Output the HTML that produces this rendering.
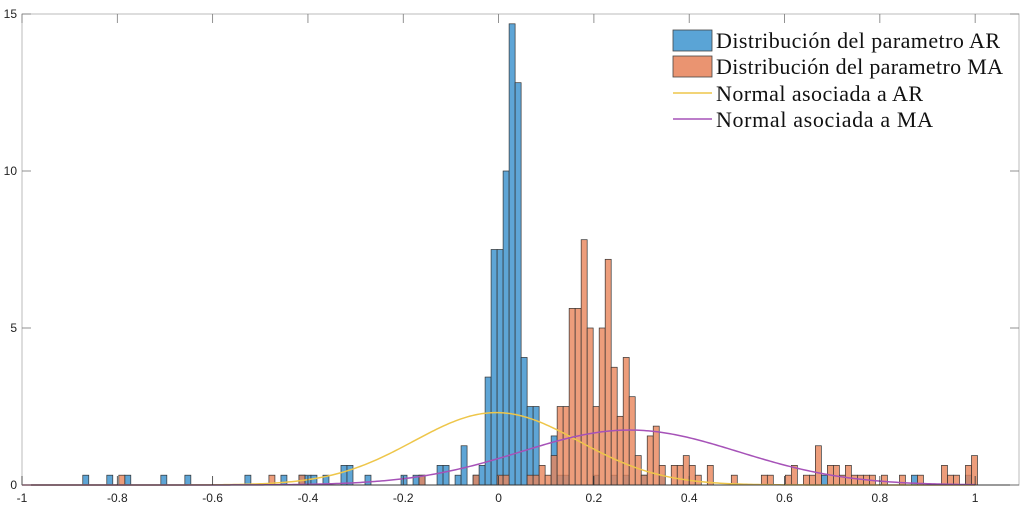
<!DOCTYPE html>
<html><head><meta charset="utf-8"><style>
html,body{margin:0;padding:0;background:#fff;}
svg{display:block;font-family:"Liberation Sans",sans-serif;}
</style></head><body>
<svg id="chart" width="1025" height="521" viewBox="0 0 1025 521" xmlns="http://www.w3.org/2000/svg">
<rect x="0" y="0" width="1025" height="521" fill="#fff"/>
<g id="bars-ar"></g>
<g id="bars-ma"></g>
<g id="curves"></g>
<g id="axes"></g>
<g id="legend">
  <rect x="673" y="30" width="39" height="21" fill="#5aa4d6" stroke="#444" stroke-width="0.8"/>
  <text x="716" y="48" font-family="Liberation Serif, serif" font-size="22" textLength="284" fill="#111">Distribución del parametro AR</text>
  <rect x="673" y="56" width="39" height="21" fill="#ea9471" stroke="#444" stroke-width="0.8"/>
  <text x="716" y="74" font-family="Liberation Serif, serif" font-size="22" textLength="287" fill="#111">Distribución del parametro MA</text>
  <line x1="673" y1="93" x2="712" y2="93" stroke="#eec64a" stroke-width="1.5"/>
  <text x="716" y="101" font-family="Liberation Serif, serif" font-size="22" textLength="207" fill="#111">Normal asociada a AR</text>
  <line x1="673" y1="119" x2="712" y2="119" stroke="#a652b8" stroke-width="1.5"/>
  <text x="716" y="127" font-family="Liberation Serif, serif" font-size="22" textLength="217" fill="#111">Normal asociada a MA</text>
</g>
</svg>
<script>
// bins: index k -> left edge = binStart + k*binWidth
const binStart = -0.0283;
const binWidth = 0.0126;
const unitDensity = 0.3125;
const arBins = [-67,-63,-60,-54,-50,-40,-34,-31,-30,-29,-27,-24,-23,-20,-14,-12,-11,-8,-7,-5,-4,-2,-1,0,1,2,3,4,5,6,7,8,11,12,13,18,21,23,26,29,56,71,80];
const arCounts = [1,1,1,1,1,1,1,1,1,1,1,2,2,1,1,1,1,2,2,1,4,1,2,11,24,24,32,47,41,13,8,8,5,1,1,1,1,1,1,1,1,1,1];
const maBins = [-61,-36,-31,-11,-2,2,3,7,8,9,10,11,12,13,14,15,16,17,18,19,20,21,22,23,24,25,26,27,28,29,31,32,33,34,35,37,41,46,47,50,51,53,54,55,57,58,59,60,61,62,63,64,66,69,72,76,77,78,80,81];
const maCounts = [1,1,1,1,1,1,1,1,1,2,1,3,8,8,18,18,25,16,8,16,23,12,7,13,9,3,1,5,6,2,2,2,3,2,1,2,1,1,1,1,2,1,1,4,2,2,1,2,1,1,1,1,1,1,1,2,1,1,2,3];
const arMean = -0.005, arSigma = 0.173;
const maMean = 0.275, maSigma = 0.228;
const xTicks = [-1,-0.8,-0.6,-0.4,-0.2,0,0.2,0.4,0.6,0.8,1];
const xTickLabels = ["-1","-0.8","-0.6","-0.4","-0.2","0","0.2","0.4","0.6","0.8","1"];
const yTicks = [0,5,10,15];
const yTickLabels = ["0","5","10","15"];

const X0=22, X1=1019, Y0=485, Y1=14, xmin=-1, xmax=1.092, ymin=0, ymax=15;
const sx = v => X0 + (v - xmin) / (xmax - xmin) * (X1 - X0);
const sy = v => Y0 - (v - ymin) / (ymax - ymin) * (Y0 - Y1);
const NS = "http://www.w3.org/2000/svg";
function mk(tag, attrs, parent){const e=document.createElementNS(NS,tag);for(const k in attrs)e.setAttribute(k,attrs[k]);parent.appendChild(e);return e;}

function drawBars(g, bins, counts, fill, op, name){
  bins.forEach((k,i)=>{
    const l = binStart + k*binWidth, r = l + binWidth;
    const h = counts[i]*unitDensity;
    const el = mk('rect',{x:sx(l),y:sy(h),width:sx(r)-sx(l),height:sy(0)-sy(h),fill:fill,'fill-opacity':op,stroke:'#333','stroke-width':0.7},g);
    
    
  });
}
drawBars(document.getElementById('bars-ar'), arBins, arCounts, '#4d9bd1', 0.9, 'ar-bar');
drawBars(document.getElementById('bars-ma'), maBins, maCounts, '#e8845a', 0.8, 'ma-bar');

function normPath(m,s){
  let d='';
  for(let i=0;i<=400;i++){const x=xmin+(1-xmin)*i/400;const y=Math.exp(-0.5*((x-m)/s)**2)/(s*Math.sqrt(2*Math.PI));d+=(i?'L':'M')+sx(x).toFixed(2)+','+sy(y).toFixed(2);}
  return d;
}
const cg=document.getElementById('curves');
const c1=mk('path',{d:normPath(arMean,arSigma),fill:'none',stroke:'#eec64a','stroke-width':1.5},cg);


const c2=mk('path',{d:normPath(maMean,maSigma),fill:'none',stroke:'#a652b8','stroke-width':1.5},cg);



const ag=document.getElementById('axes');
const box=mk('rect',{x:X0,y:Y1,width:X1-X0,height:Y0-Y1,fill:'none',stroke:'#bbb','stroke-width':1},ag);


const xb=mk('line',{x1:X0,y1:Y0,x2:X1,y2:Y0,stroke:'#333','stroke-width':1},ag);


xTicks.forEach((v,i)=>{
  const x=sx(v);
  const t1=mk('line',{x1:x,y1:Y0,x2:x,y2:Y0-9,stroke:'#333','stroke-width':0.8},ag);
  
  
  const t2=mk('line',{x1:x,y1:Y1,x2:x,y2:Y1+9,stroke:'#777','stroke-width':0.8},ag);
  
  
  const tx=mk('text',{x:x,y:502,'text-anchor':'middle','font-size':12,fill:'#222'},ag);
  tx.textContent=xTickLabels[i];
  
  
});
yTicks.forEach((v,i)=>{
  const y=sy(v);
  const t1=mk('line',{x1:X0,y1:y,x2:X0+9,y2:y,stroke:'#777','stroke-width':0.8},ag);
  
  
  const t2=mk('line',{x1:X1,y1:y,x2:X1-9,y2:y,stroke:'#777','stroke-width':0.8},ag);
  
  
  const tx=mk('text',{x:17,y:y+4,'text-anchor':'end','font-size':12,fill:'#222'},ag);
  tx.textContent=yTickLabels[i];
  
  
});
</script>
</body></html>
